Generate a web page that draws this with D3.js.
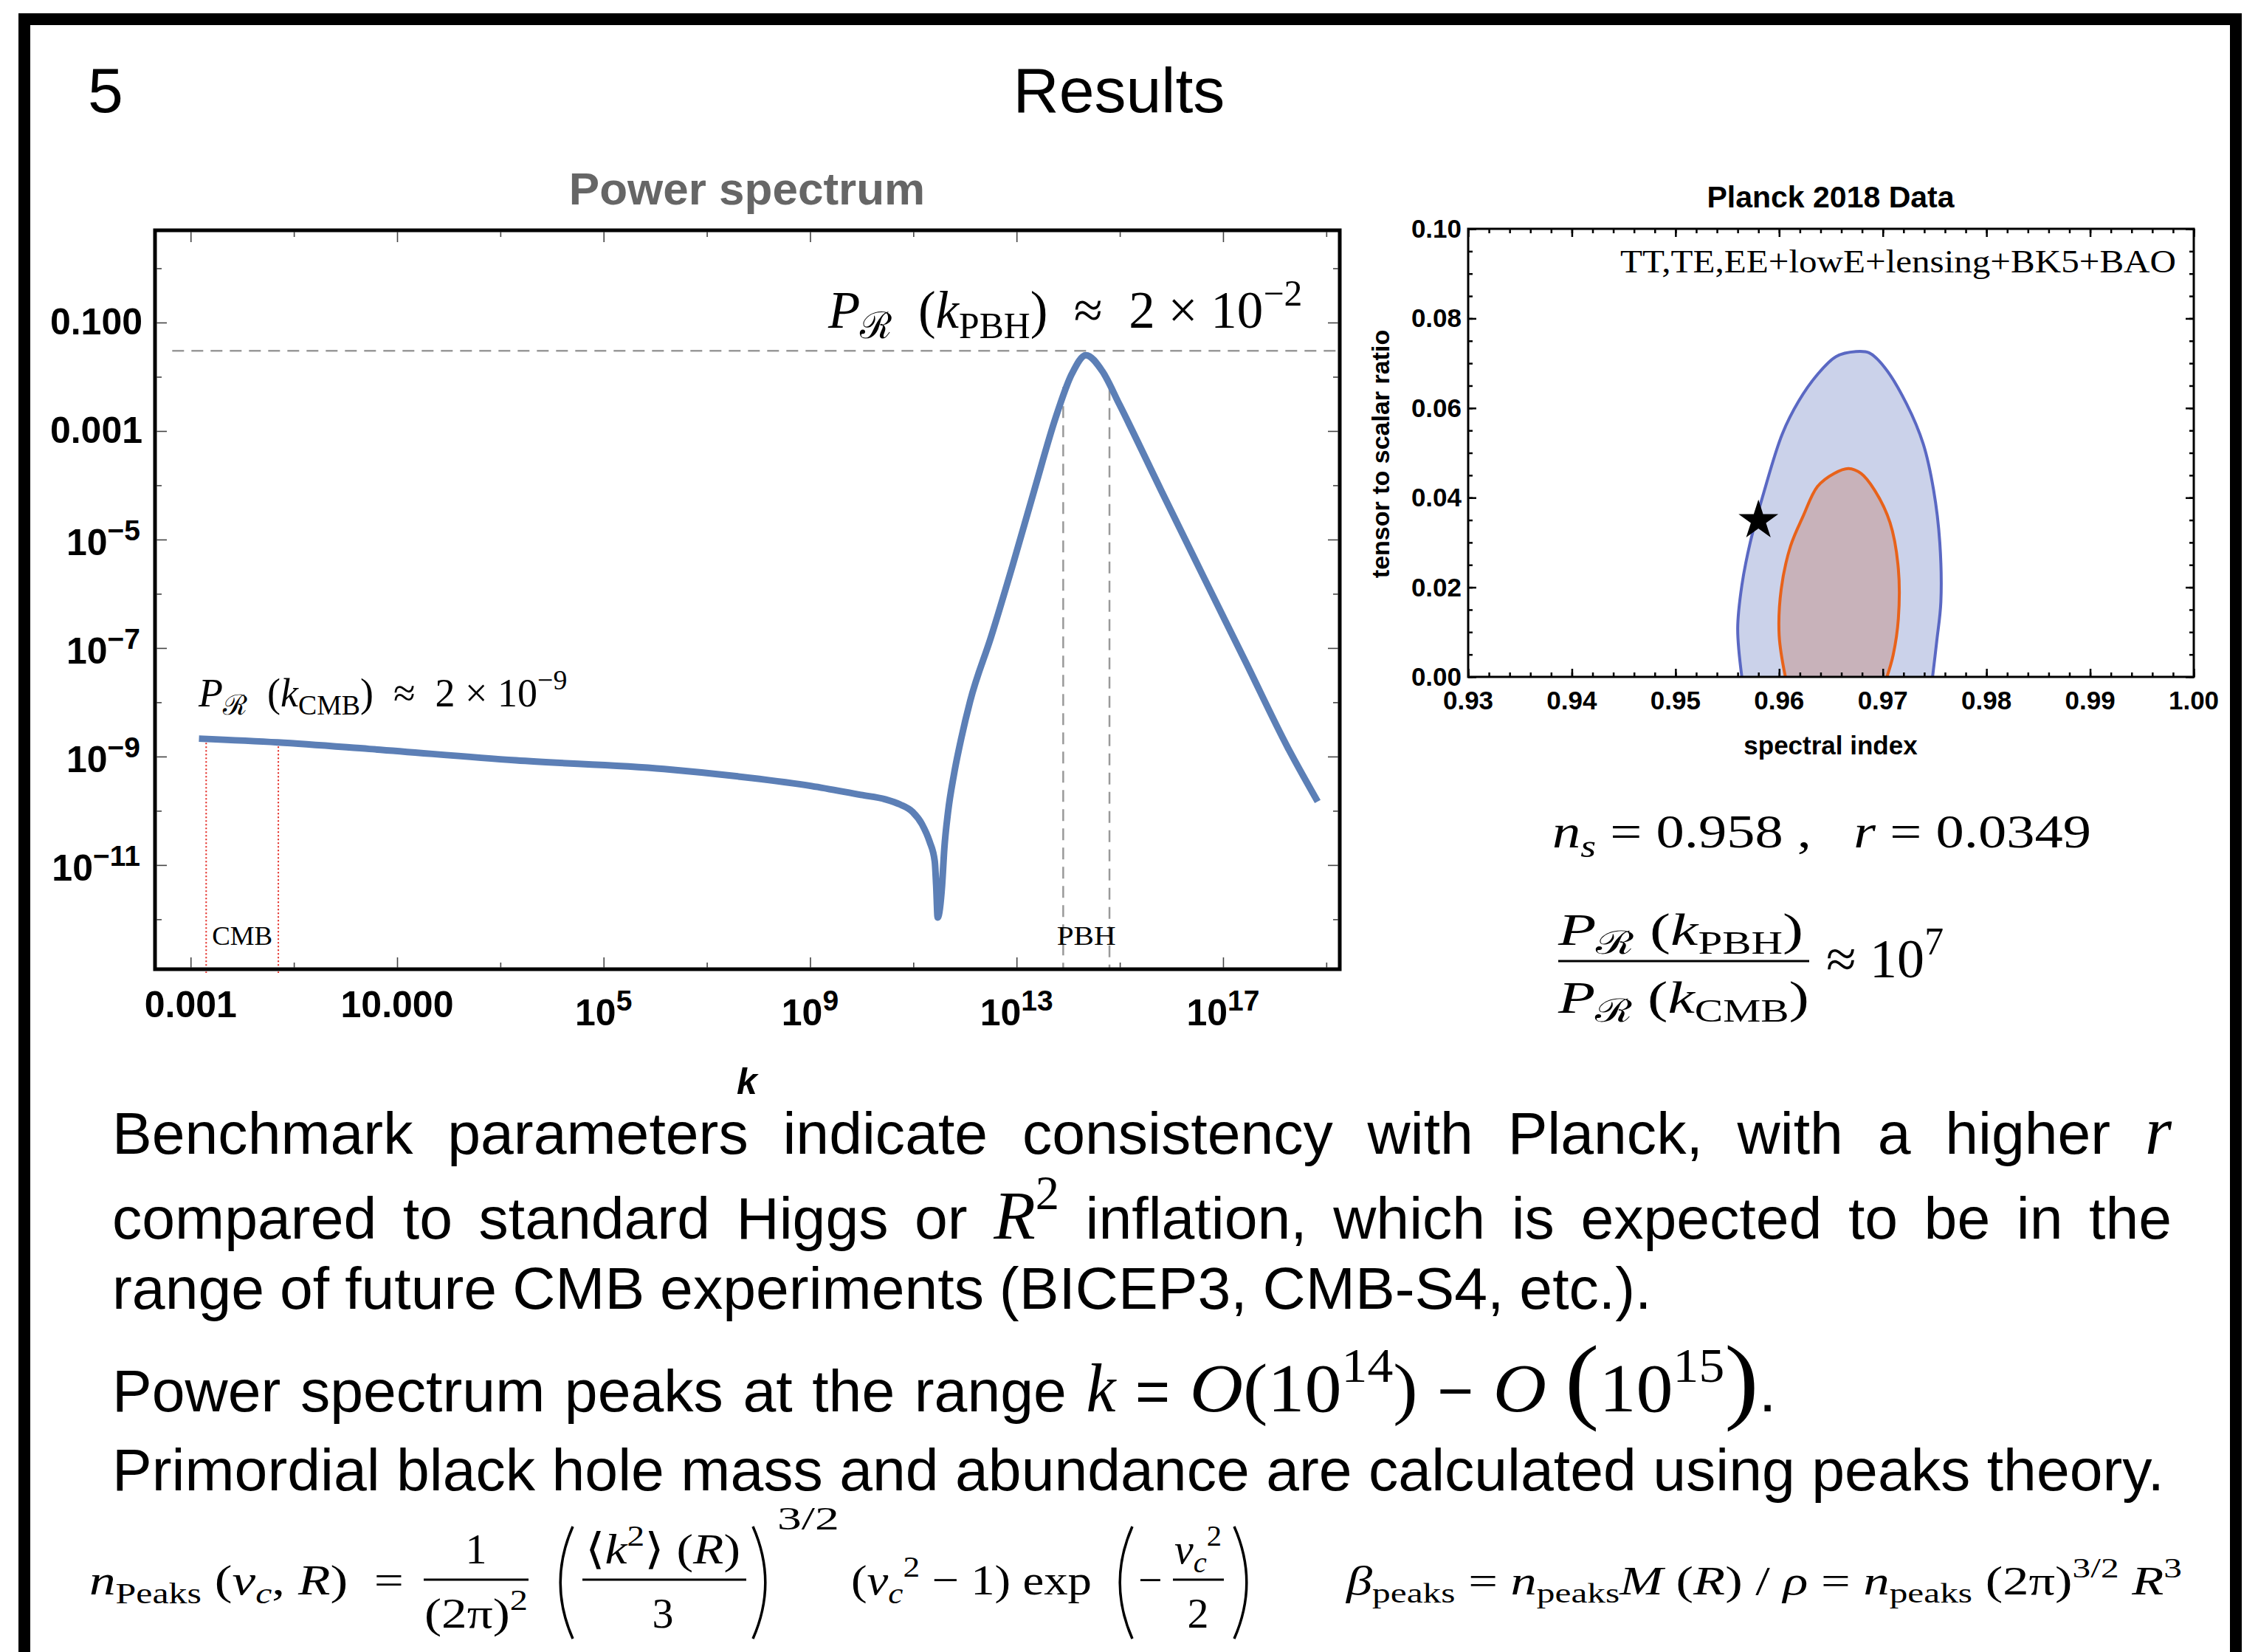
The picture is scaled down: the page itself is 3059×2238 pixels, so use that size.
<!DOCTYPE html>
<html>
<head>
<meta charset="utf-8">
<script src="https://cdn.jsdelivr.net/npm/d3@7"></script>
<style>
  body { margin: 0; background: #fff; }
  svg { display: block; }
  svg text { white-space: pre; }
</style>
</head>
<body>
<div id="slide"></div>
<script>
// ---- power spectrum ----
var specK = [1.45e-3, 4.9e-2, 2.9, 2.0e3, 1.48e6, 4.0e7, 1.07e9, 9.7e9, 2.86e10, 5.5e10, 9.7e10, 1.48e11, 2.06e11, 2.6e11,
  2.77e11, 2.96e11, 3.6e11, 3.98e11, 4.7e11, 6.1e11, 8.5e11, 1.26e12, 3.2e12, 8.5e12,
  2.2e13, 5.75e13, 1.17e14, 2.2e14, 4.6e14, 9.8e14, 6.3e15, 4.1e16, 2.75e17, 1.8e18, 6.8e18];
var specP = [2.14e-9, 1.82e-9, 1.38e-9, 8.5e-10, 5.9e-10, 4.3e-10, 2.86e-10, 1.96e-10, 1.63e-10, 1.31e-10, 9.5e-11, 5.6e-11, 2.72e-11, 1.17e-11,
  4.2e-12, 1.08e-12, 4.2e-12, 2.0e-11, 9.5e-11, 4.6e-10, 2.19e-9, 1.05e-8, 1.6e-7, 3.5e-6,
  8.1e-5, 1.8e-3, 1.12e-2, 2.5e-2, 1.26e-2, 3.1e-3, 8.1e-5, 2.14e-6, 5.5e-8, 1.45e-9, 1.48e-10];
var specXTicks = [1e-3, 1e1, 1e5, 1e9, 1e13, 1e17];
var specXLabels = [["0.001"], ["10.000"], ["10", "5"], ["10", "9"], ["10", "13"], ["10", "17"]];
var specXMinor = [1e-1, 1e3, 1e7, 1e11, 1e15, 1e19];
var specYTicks = [1e-1, 1e-3, 1e-5, 1e-7, 1e-9, 1e-11];
var specYLabels = [["0.100"], ["0.001"], ["10", "\u22125"], ["10", "\u22127"], ["10", "\u22129"], ["10", "\u221211"]];
var specYMinor = [1e0, 1e-2, 1e-4, 1e-6, 1e-8, 1e-10, 1e-12];
var cmbK = [0.002, 0.05];
var cmbTopP = [2.1e-9, 1.8e-9];
var pbhK = [8e13, 6.3e14];
var pbhTopP = [6.5e-3, 6e-3];
var peakP = 0.03;
var peakStartK = 4.4e-4;

// ---- Planck 2018 contours ----
var outerNs = [0.9564, 0.9560, 0.9564, 0.9572, 0.9585, 0.9603, 0.9619, 0.9637, 0.9655, 0.9674, 0.9687, 0.9702, 0.9723, 0.9739, 0.9749, 0.9755, 0.9756, 0.9752, 0.9748];
var outerR = [0.000, 0.0108, 0.0204, 0.0299, 0.041, 0.0542, 0.0616, 0.0675, 0.0715, 0.0726, 0.0723, 0.069, 0.0609, 0.052, 0.0417, 0.0299, 0.0167, 0.0079, 0.000];
var innerNs = [0.9606, 0.9600, 0.9602, 0.9611, 0.9623, 0.9637, 0.9653, 0.9667, 0.9679, 0.9692, 0.9707, 0.9715, 0.9715, 0.9710, 0.9704];
var innerR = [0.000, 0.0093, 0.0196, 0.0292, 0.0358, 0.0425, 0.0454, 0.0465, 0.0454, 0.0417, 0.0344, 0.0241, 0.013, 0.0049, 0.000];
var benchNs = 0.958, benchR = 0.0349;
var planckXTicks = [0.93, 0.94, 0.95, 0.96, 0.97, 0.98, 0.99, 1.00];
var planckYTicks = [0, 0.02, 0.04, 0.06, 0.08, 0.10];

var SANS = "'Liberation Sans', Arial, Helvetica, sans-serif";
var SERIF = "'Liberation Serif', 'DejaVu Serif', serif";

var svg = d3.select("#slide").append("svg").attr("width", 3059).attr("height", 2238);

// text with italics / sub / superscripts as tspans
function rich(parent, x, y, parts, o) {
  var t = parent.append("text").attr("x", x).attr("y", y)
    .attr("font-family", o.family).attr("font-size", o.size)
    .attr("text-anchor", o.anchor || "start").attr("fill", o.fill || "#000");
  if (o.weight) t.attr("font-weight", o.weight);
  if (o.len) t.attr("textLength", o.len).attr("lengthAdjust", "spacingAndGlyphs");
  var cur = 0;
  parts.forEach(function(p) {
    if (typeof p === "string") p = { t: p };
    var want = p.sup ? -o.size * (p.up || 0.42) : p.sub ? o.size * (p.down || 0.2) : (p.shift || 0);
    var s = t.append("tspan").text(p.t);
    if (want !== cur) { s.attr("dy", want - cur); cur = want; }
    if (p.dx) s.attr("dx", p.dx);
    var sc = p.s || ((p.sup || p.sub) ? 0.7 : 1);
    if (sc !== 1) s.attr("font-size", o.size * sc);
    if (p.i) s.attr("font-style", "italic");
    if (p.f) s.attr("font-family", p.f);
    if (p.w) s.attr("font-weight", p.w);
  });
  return t;
}

// slide frame + heading
svg.append("path").attr("d", "M33,2250V26H3029V2250")
  .attr("fill", "none").attr("stroke", "#000").attr("stroke-width", 16);
svg.append("text").attr("x", 143).attr("y", 152).attr("text-anchor", "middle")
  .attr("font-family", SANS).attr("font-size", 86).text("5");
svg.append("text").attr("x", 1516).attr("y", 152).attr("text-anchor", "middle")
  .attr("font-family", SANS).attr("font-size", 86).text("Results");

// ================= power spectrum =================
var sx = d3.scaleLog().domain([Math.pow(10, -3.69), Math.pow(10, 19.26)]).range([210, 1815]);
var sy = d3.scaleLog().domain([Math.pow(10, -12.92), Math.pow(10, 0.70)]).range([1313, 312]);
var gs = svg.append("g");

gs.append("text").attr("x", 1012).attr("y", 277).attr("text-anchor", "middle")
  .attr("font-family", SANS).attr("font-weight", "bold").attr("font-size", 62)
  .attr("fill", "#666").text("Power spectrum");

// reference lines
gs.append("line").attr("x1", sx(peakStartK)).attr("x2", sx.range()[1])
  .attr("y1", sy(peakP)).attr("y2", sy(peakP))
  .attr("stroke", "#999").attr("stroke-width", 2.5).attr("stroke-dasharray", "16,10");
pbhK.forEach(function(k, i) {
  gs.append("line").attr("x1", sx(k)).attr("x2", sx(k)).attr("y1", sy(pbhTopP[i])).attr("y2", 1313)
    .attr("stroke", "#999").attr("stroke-width", 2.5).attr("stroke-dasharray", "16,10");
});
cmbK.forEach(function(k, i) {
  gs.append("line").attr("x1", sx(k)).attr("x2", sx(k)).attr("y1", sy(cmbTopP[i])).attr("y2", 1318)
    .attr("stroke", "#e3261f").attr("stroke-width", 2).attr("stroke-dasharray", "2,3");
});

var spec = specK.map(function(k, i) { return { k: k, p: specP[i] }; });
var line = d3.line()
  .x(function(d) { return sx(d.k); })
  .y(function(d) { return sy(d.p); })
  .curve(d3.curveMonotoneX);
gs.append("path").datum(spec).attr("d", line)
  .attr("fill", "none").attr("stroke", "#5c7fb6").attr("stroke-width", 9)
  .attr("stroke-linejoin", "round");

// frame and ticks
gs.append("rect").attr("x", 210).attr("y", 312).attr("width", 1605).attr("height", 1001)
  .attr("fill", "none").attr("stroke", "#000").attr("stroke-width", 5);

function ticksOnly(parent, axisFn, scale, values, size, tr, color, width) {
  var g = parent.append("g").attr("transform", tr)
    .call(axisFn(scale).tickValues(values).tickSize(size).tickFormat(""));
  g.select(".domain").remove();
  g.selectAll("line").attr("stroke", color).attr("stroke-width", width);
}
ticksOnly(gs, d3.axisBottom, sx, specXTicks, -14, "translate(0,1311)", "#444", 1.6);
ticksOnly(gs, d3.axisBottom, sx, specXMinor, -7, "translate(0,1311)", "#444", 1.6);
ticksOnly(gs, d3.axisTop, sx, specXTicks, -14, "translate(0,314)", "#444", 1.6);
ticksOnly(gs, d3.axisTop, sx, specXMinor, -7, "translate(0,314)", "#444", 1.6);
ticksOnly(gs, d3.axisLeft, sy, specYTicks, -14, "translate(212,0)", "#444", 1.6);
ticksOnly(gs, d3.axisLeft, sy, specYMinor, -7, "translate(212,0)", "#444", 1.6);
ticksOnly(gs, d3.axisRight, sy, specYTicks, -14, "translate(1813,0)", "#444", 1.6);
ticksOnly(gs, d3.axisRight, sy, specYMinor, -7, "translate(1813,0)", "#444", 1.6);

specXTicks.forEach(function(v, i) {
  var lab = specXLabels[i];
  if (lab.length === 1) {
    rich(gs, sx(v), 1378, [lab[0]], { family: SANS, size: 50, weight: "bold", anchor: "middle" });
  } else {
    rich(gs, sx(v), 1389, [lab[0], { t: lab[1], sup: true, up: 0.4, s: 0.78 }],
      { family: SANS, size: 50, weight: "bold", anchor: "middle" });
  }
});
specYTicks.forEach(function(v, i) {
  var lab = specYLabels[i];
  if (lab.length === 1) {
    rich(gs, 193, sy(v) + 16, [lab[0]], { family: SANS, size: 50, weight: "bold", anchor: "end" });
  } else {
    rich(gs, 190, sy(v) + 21, [lab[0], { t: lab[1], sup: true, up: 0.4, s: 0.78 }],
      { family: SANS, size: 50, weight: "bold", anchor: "end" });
  }
});
gs.append("text").attr("x", 1012).attr("y", 1482).attr("text-anchor", "middle")
  .attr("font-family", SANS).attr("font-weight", "bold").attr("font-style", "italic")
  .attr("font-size", 50).text("k");

// annotations
rich(gs, 269, 957, [{ t: "P", i: true }, { t: "\u211B", sub: true }, "  (", { t: "k", i: true }, { t: "CMB", sub: true },
  ")  \u2248  2 \u00D7 10", { t: "\u22129", sup: true }], { family: SERIF, size: 54 });
rich(gs, 1122, 444, [{ t: "P", i: true }, { t: "\u211B", sub: true }, "  (", { t: "k", i: true }, { t: "PBH", sub: true },
  ")  \u2248  2 \u00D7 10", { t: "\u22122", sup: true }], { family: SERIF, size: 71 });
rich(gs, d3.mean(cmbK.map(sx)), 1280, ["CMB"], { family: SERIF, size: 36, anchor: "middle", len: 82 });
rich(gs, d3.mean(pbhK.map(sx)), 1280, ["PBH"], { family: SERIF, size: 36, anchor: "middle", len: 80 });

// ================= Planck plot =================
var px = d3.scaleLinear().domain([0.93, 1.00]).range([1989, 2972]);
var py = d3.scaleLinear().domain([0, 0.10]).range([917, 310]);
var gp = svg.append("g");

gp.append("text").attr("x", 2480).attr("y", 281).attr("text-anchor", "middle")
  .attr("font-family", SANS).attr("font-weight", "bold").attr("font-size", 41).text("Planck 2018 Data");

gp.append("clipPath").attr("id", "pclip").append("rect")
  .attr("x", 1989).attr("y", 310).attr("width", 983).attr("height", 607);
var cline = d3.line().x(function(d) { return px(d[0]); }).y(function(d) { return py(d[1]); })
  .curve(d3.curveCatmullRom);
function contour(ns, r, fill, stroke) {
  var pts = ns.map(function(v, i) { return [v, r[i]]; });
  var c = gp.append("g").attr("clip-path", "url(#pclip)");
  c.append("path").attr("d", cline(pts) + "Z").attr("fill", fill);
  c.append("path").attr("d", cline(pts)).attr("fill", "none")
    .attr("stroke", stroke).attr("stroke-width", 4);
}
contour(outerNs, outerR, "#cbd2ea", "#5a68c3");
contour(innerNs, innerR, "#c8b2ba", "#e8621a");

gp.append("path").attr("d", d3.symbol(d3.symbolStar).size(900)())
  .attr("transform", "translate(" + px(benchNs) + "," + py(benchR) + ")").attr("fill", "#000");

gp.append("rect").attr("x", 1989).attr("y", 310).attr("width", 983).attr("height", 607)
  .attr("fill", "none").attr("stroke", "#000").attr("stroke-width", 3);
var pxMinor = d3.range(0.93, 1.0001, 0.002);
var pyMinor = d3.range(0, 0.1001, 0.005);
ticksOnly(gp, d3.axisBottom, px, planckXTicks, -11, "translate(0,917)", "#000", 2.5);
ticksOnly(gp, d3.axisBottom, px, pxMinor, -6, "translate(0,917)", "#000", 2.5);
ticksOnly(gp, d3.axisTop, px, planckXTicks, -11, "translate(0,310)", "#000", 2.5);
ticksOnly(gp, d3.axisTop, px, pxMinor, -6, "translate(0,310)", "#000", 2.5);
ticksOnly(gp, d3.axisLeft, py, planckYTicks, -11, "translate(1989,0)", "#000", 2.5);
ticksOnly(gp, d3.axisLeft, py, pyMinor, -6, "translate(1989,0)", "#000", 2.5);
ticksOnly(gp, d3.axisRight, py, planckYTicks, -11, "translate(2972,0)", "#000", 2.5);
ticksOnly(gp, d3.axisRight, py, pyMinor, -6, "translate(2972,0)", "#000", 2.5);

planckXTicks.forEach(function(v) {
  gp.append("text").attr("x", px(v)).attr("y", 961).attr("text-anchor", "middle")
    .attr("font-family", SANS).attr("font-weight", "bold").attr("font-size", 35).text(d3.format(".2f")(v));
});
planckYTicks.forEach(function(v) {
  gp.append("text").attr("x", 1980).attr("y", py(v) + 12).attr("text-anchor", "end")
    .attr("font-family", SANS).attr("font-weight", "bold").attr("font-size", 35).text(d3.format(".2f")(v));
});
gp.append("text").attr("x", 2480).attr("y", 1022).attr("text-anchor", "middle")
  .attr("font-family", SANS).attr("font-weight", "bold").attr("font-size", 35).text("spectral index");
gp.append("text").attr("transform", "translate(1882,615) rotate(-90)").attr("text-anchor", "middle")
  .attr("font-family", SANS).attr("font-weight", "bold").attr("font-size", 34).text("tensor to scalar ratio");
rich(gp, 2948, 369, ["TT,TE,EE+lowE+lensing+BK5+BAO"], { family: SERIF, size: 44, anchor: "end", len: 753 });

// right-hand equations
rich(svg, 2103, 1148, [{ t: "n", i: true }, { t: "s", i: true, sub: true }, " = 0.958 ,   ", { t: "r", i: true }, " = 0.0349"],
  { family: SERIF, size: 64, len: 730 });
rich(svg, 2277, 1280, [{ t: "P", i: true }, { t: "\u211B", sub: true }, " (", { t: "k", i: true }, { t: "PBH", sub: true }, ")"],
  { family: SERIF, size: 62, anchor: "middle", len: 332 });
svg.append("line").attr("x1", 2111).attr("x2", 2451).attr("y1", 1302).attr("y2", 1302)
  .attr("stroke", "#000").attr("stroke-width", 3);
rich(svg, 2281, 1372, [{ t: "P", i: true }, { t: "\u211B", sub: true }, " (", { t: "k", i: true }, { t: "CMB", sub: true }, ")"],
  { family: SERIF, size: 62, anchor: "middle", len: 340 });
rich(svg, 2474, 1324, ["\u2248 10", { t: "7", sup: true }], { family: SERIF, size: 74 });

// ================= body text =================
var gb = svg.append("g");
var probe = gb.append("text").attr("font-family", SANS).attr("font-size", 78)
  .text("Primordial black hole mass and abundance are calculated using peaks theory.");
var bodySize = 78 * 2780 / probe.node().getComputedTextLength();
probe.remove();
var mathScale = 1.15;

function layoutLine(tokens, x0, x1, y, justify, gapScale) {
  var nodes = tokens.map(function(tok) {
    if (typeof tok === "string") tok = [tok];
    if (Array.isArray(tok)) tok = { parts: tok };
    return rich(gb, 0, y, tok.parts, { family: SANS, size: bodySize, len: tok.len });
  });
  var widths = nodes.map(function(n, i) {
    var l = n.attr("textLength");
    return l ? +l : n.node().getComputedTextLength();
  });
  var gap = justify ? (x1 - x0 - d3.sum(widths)) / (tokens.length - 1) : bodySize * (gapScale || 0.26);
  var x = x0;
  nodes.forEach(function(n, i) { n.attr("x", x); x += widths[i] + gap; });
}
function m(t, extra) {
  var p = { t: t, f: SERIF, s: mathScale };
  return Object.assign(p, extra || {});
}

layoutLine(["Benchmark", "parameters", "indicate", "consistency", "with", "Planck,", "with", "a", "higher",
  [m("r", { i: true })]], 152, 2942, 1563, true);
layoutLine(["compared", "to", "standard", "Higgs", "or",
  [m("R", { i: true }), { t: "2", f: SERIF, sup: true, up: 0.5, s: 0.8 }],
  "inflation,", "which", "is", "expected", "to", "be", "in", "the"], 152, 2942, 1678, true);
layoutLine(["range", "of", "future", "CMB", "experiments", "(BICEP3,", "CMB-S4,", "etc.)."], 152, 2942, 1773, false);
layoutLine(["Power", "spectrum", "peaks", "at", "the", "range",
  { parts: [m("k", { i: true })], len: 40 },
  { parts: ["="], len: 47 },
  { parts: [m("O", { i: true }), m("(10"), { t: "14", f: SERIF, sup: true, up: 0.5, s: 0.8 }, m(")")], len: 309 },
  { parts: ["\u2212"], len: 49 },
  { parts: [m("O ", { i: true }), m("(", { s: 1.6 }), m("10"), { t: "15", f: SERIF, sup: true, up: 0.5, s: 0.8 },
    m(")", { s: 1.6 }), "."], len: 384 }], 152, 2942, 1912, false, 0.33);
layoutLine(["Primordial", "black", "hole", "mass", "and", "abundance", "are", "calculated", "using", "peaks", "theory."],
  152, 2932, 2019, true);

// ================= peaks-theory formulas =================
var ge = svg.append("g");
var ES = 58;
function bigParen(x, top, bottom, open) {
  var w = open ? 16 : -16, mid = (top + bottom) / 2;
  ge.append("path").attr("d", "M" + (x + w) + "," + top + "Q" + (x - w * 1.1) + "," + mid + " " + (x + w) + "," + bottom)
    .attr("fill", "none").attr("stroke", "#000").attr("stroke-width", 3.5);
}
function fracBar(x1, x2, y) {
  ge.append("line").attr("x1", x1).attr("x2", x2).attr("y1", y).attr("y2", y)
    .attr("stroke", "#000").attr("stroke-width", 3);
}
rich(ge, 121, 2160, [{ t: "n", i: true }, { t: "Peaks", sub: true }, " (", { t: "\u03BD", i: true }, { t: "c", i: true, sub: true },
  ", ", { t: "R", i: true }, ")  ="], { family: SERIF, size: ES, len: 426 });
rich(ge, 645, 2118, ["1"], { family: SERIF, size: ES, anchor: "middle" });
fracBar(574, 716, 2140);
rich(ge, 645, 2205, ["(2\u03C0)", { t: "2", sup: true }], { family: SERIF, size: ES, anchor: "middle", len: 140 });
bigParen(760, 2068, 2220, true);
rich(ge, 898, 2118, ["\u27E8", { t: "k", i: true }, { t: "2", sup: true }, "\u27E9 (", { t: "R", i: true }, ")"],
  { family: SERIF, size: ES, anchor: "middle", len: 210 });
fracBar(789, 1011, 2140);
rich(ge, 898, 2205, ["3"], { family: SERIF, size: ES, anchor: "middle" });
bigParen(1036, 2068, 2220, false);
rich(ge, 1053, 2072, ["3/2"], { family: SERIF, size: 44, len: 84 });
rich(ge, 1153, 2160, ["(", { t: "\u03BD", i: true }, { t: "c", i: true, sub: true }, { t: "2", sup: true },
  " \u2212 1) exp"], { family: SERIF, size: ES, len: 326 });
bigParen(1518, 2068, 2220, true);
rich(ge, 1542, 2160, ["\u2212"], { family: SERIF, size: ES });
rich(ge, 1623, 2118, [{ t: "\u03BD", i: true }, { t: "c", i: true, sub: true }, { t: "2", sup: true }],
  { family: SERIF, size: ES, anchor: "middle" });
fracBar(1589, 1658, 2140);
rich(ge, 1623, 2205, ["2"], { family: SERIF, size: ES, anchor: "middle" });
bigParen(1688, 2068, 2220, false);
rich(ge, 1824, 2160, [{ t: "\u03B2", i: true }, { t: "peaks", sub: true }, " = ", { t: "n", i: true }, { t: "peaks", sub: true },
  { t: "M", i: true }, " (", { t: "R", i: true }, ") / ", { t: "\u03C1", i: true }, " = ", { t: "n", i: true }, { t: "peaks", sub: true },
  " (2\u03C0)", { t: "3/2", sup: true }, " ", { t: "R", i: true }, { t: "3", sup: true }], { family: SERIF, size: 54, len: 1132 });
</script>
</body>
</html>
